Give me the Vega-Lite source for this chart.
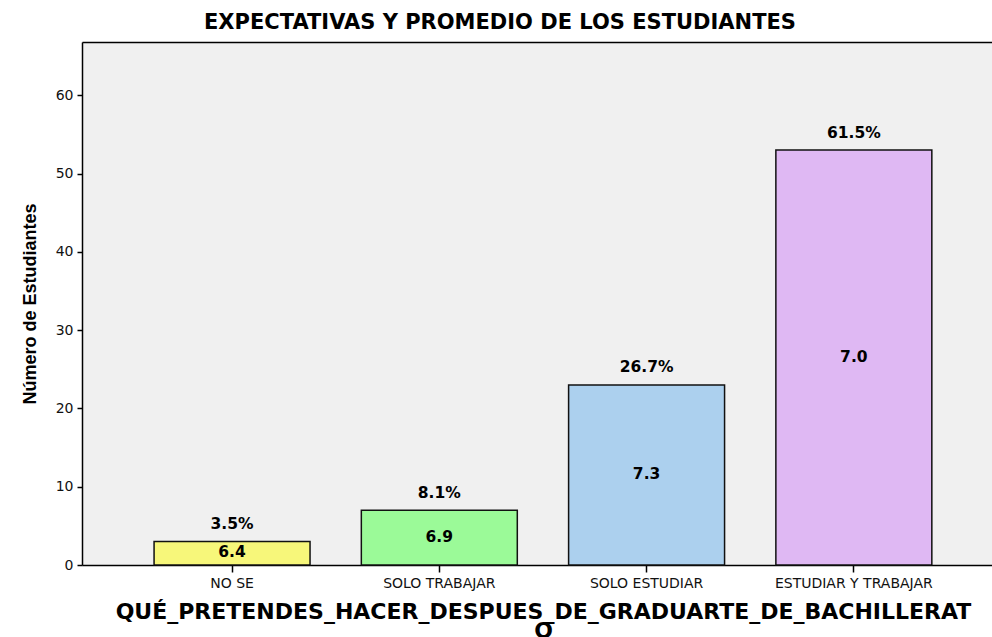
{
  "$schema": "https://vega.github.io/schema/vega-lite/v6.json",
  "autosize": {"type": "none"},
  "padding": {"left": 82, "top": 42, "right": 0, "bottom": 72},
  "width": 910,
  "height": 523,
  "background": "white",
  "title": {
    "text": "EXPECTATIVAS Y PROMEDIO DE LOS ESTUDIANTES",
    "font": "DejaVu Sans",
    "fontSize": 21,
    "fontWeight": "bold",
    "color": "black",
    "anchor": "middle",
    "baseline": "alphabetic",
    "dx": -37,
    "dy": 22.5,
    "offset": 14.5
  },
  "config": {
    "view": {"stroke": null, "fill": "#f0f0f0"}
  },
  "data": {
    "values": [
      {"categoria": "NO SE", "n": 3, "pct": "3.5%", "media": "6.4"},
      {"categoria": "SOLO TRABAJAR", "n": 7, "pct": "8.1%", "media": "6.9"},
      {"categoria": "SOLO ESTUDIAR", "n": 23, "pct": "26.7%", "media": "7.3"},
      {"categoria": "ESTUDIAR Y TRABAJAR", "n": 53, "pct": "61.5%", "media": "7.0"}
    ]
  },
  "transform": [{"calculate": "datum.n / 2", "as": "mid"}],
  "resolve": {"axis": {"x": "independent"}},
  "layer": [
    {
      "mark": {"type": "bar", "stroke": "#111111", "strokeWidth": 1.5},
      "encoding": {
        "x": {
          "field": "categoria",
          "type": "nominal",
          "sort": null,
          "scale": {"paddingInner": 0.2475, "paddingOuter": 0.319, "align": 0.545},
          "axis": {
            "orient": "bottom",
            "title": ["QUÉ_PRETENDES_HACER_DESPUES_DE_GRADUARTE_DE_BACHILLERAT", "O"],
            "titleFont": "DejaVu Sans",
            "titleFontSize": 22,
            "titleFontWeight": "bold",
            "titleColor": "black",
            "titleLineHeight": 19,
            "titlePadding": 11,
            "titleX": 461,
            "titleAnchor": "middle",
            "labelAngle": 0,
            "labelFont": "DejaVu Sans",
            "labelFontSize": 14,
            "labelColor": "#111111",
            "labelPadding": 4,
            "tickSize": 7,
            "tickWidth": 1.5,
            "tickColor": "black",
            "domainColor": "black",
            "domainWidth": 1.5,
            "grid": false
          }
        },
        "y": {
          "field": "n",
          "type": "quantitative",
          "scale": {"domain": [0, 66.8], "nice": false},
          "axis": {
            "title": "Número de Estudiantes",
            "titleFont": "Liberation Sans",
            "titleFontSize": 18,
            "titleFontWeight": "bold",
            "titleColor": "black",
            "titlePadding": 16,
            "values": [0, 10, 20, 30, 40, 50, 60],
            "labelFont": "DejaVu Sans",
            "labelFontSize": 14,
            "labelColor": "#111111",
            "labelPadding": 4,
            "tickSize": 5,
            "tickWidth": 1.5,
            "tickColor": "black",
            "domainColor": "black",
            "domainWidth": 1.5,
            "grid": false
          }
        },
        "fill": {
          "field": "categoria",
          "type": "nominal",
          "scale": {
            "domain": ["NO SE", "SOLO TRABAJAR", "SOLO ESTUDIAR", "ESTUDIAR Y TRABAJAR"],
            "range": ["#f7f77a", "#9bfa98", "#acd0ee", "#dfb8f3"]
          },
          "legend": null
        }
      }
    },
    {
      "mark": {"type": "text", "font": "DejaVu Sans", "fontSize": 15.5, "fontWeight": "bold", "color": "black", "baseline": "middle", "dy": -17.5},
      "encoding": {
        "x": {
          "field": "categoria",
          "type": "nominal",
          "sort": null,
          "axis": {"orient": "top", "labels": false, "ticks": false, "title": null, "domain": true, "domainColor": "black", "domainWidth": 1.5, "grid": false}
        },
        "y": {"field": "n", "type": "quantitative"},
        "text": {"field": "pct"}
      }
    },
    {
      "mark": {"type": "text", "font": "DejaVu Sans", "fontSize": 15.5, "fontWeight": "bold", "color": "black", "baseline": "middle", "dy": -1},
      "encoding": {
        "x": {"field": "categoria", "type": "nominal", "sort": null, "axis": null},
        "y": {"field": "mid", "type": "quantitative"},
        "text": {"field": "media"}
      }
    }
  ]
}
